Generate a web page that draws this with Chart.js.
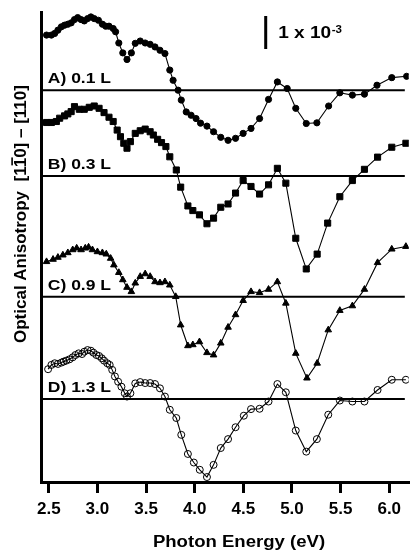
<!DOCTYPE html>
<html><head><meta charset="utf-8">
<script src="https://cdn.jsdelivr.net/npm/chart.js@4.4.1/dist/chart.umd.min.js"></script>
<style>html,body{margin:0;padding:0;background:#fff}canvas{display:block}</style>
</head><body>
<canvas id="c" width="414" height="550"></canvas>
<script>
// ---- Data (anisotropy in units of 1e-3, relative to each curve's baseline) ----
const seriesLabels = ['A) 0.1 L', 'B) 0.3 L', 'C) 0.9 L', 'D) 1.3 L'];
const offsets = [9.36, 6.76, 3.10, 0];
const xTicks = [2.5, 3.0, 3.5, 4.0, 4.5, 5.0, 5.5, 6.0];

const energyA = [2.477,2.527,2.561,2.594,2.629,2.662,2.696,2.730,2.764,2.797,2.832,2.865,2.899,2.933,2.967,3.010,3.051,3.085,3.119,3.162,3.187,3.220,3.261,3.304,3.349,3.389,3.440,3.491,3.542,3.592,3.643,3.694,3.744,3.778,3.829,3.862,3.913,3.963,4.014,4.060,4.126,4.194,4.268,4.343,4.420,4.498,4.579,4.667,4.759,4.850,4.951,5.039,5.147,5.256,5.377,5.492,5.621,5.745,5.874,6.026,6.179];
const valuesA = [1.67,1.67,1.72,1.82,1.92,1.97,2.00,2.04,2.14,2.20,2.14,2.10,2.17,2.22,2.17,2.12,2.00,1.94,1.94,1.87,1.77,1.43,1.13,0.93,1.13,1.42,1.49,1.43,1.39,1.31,1.21,1.11,0.61,0.30,0.00,-0.30,-0.66,-0.76,-0.86,-1.00,-1.09,-1.26,-1.43,-1.52,-1.46,-1.31,-1.16,-0.86,-0.28,0.25,0.05,-0.55,-1.01,-0.99,-0.48,-0.08,-0.15,-0.12,0.15,0.38,0.42];

const energyB = [2.477,2.527,2.578,2.612,2.662,2.696,2.730,2.764,2.814,2.865,2.916,2.967,3.017,3.068,3.119,3.162,3.203,3.237,3.271,3.304,3.339,3.389,3.440,3.491,3.542,3.575,3.619,3.659,3.704,3.744,3.811,3.856,3.930,3.981,4.049,4.126,4.194,4.268,4.343,4.420,4.498,4.579,4.667,4.759,4.850,4.937,5.039,5.147,5.259,5.367,5.492,5.621,5.745,5.880,6.026,6.171];
const valuesB = [1.62,1.62,1.65,1.75,1.82,1.88,1.95,2.10,2.02,2.02,2.08,2.12,2.05,1.92,1.78,1.65,1.39,1.19,0.99,0.84,1.04,1.29,1.37,1.42,1.34,1.24,1.11,1.01,0.89,0.58,0.18,-0.34,-0.91,-1.05,-1.18,-1.45,-1.28,-0.95,-0.85,-0.52,-0.14,-0.32,-0.55,-0.27,0.23,-0.22,-1.89,-2.82,-2.37,-1.43,-0.63,-0.14,0.20,0.57,0.87,0.99];

const energyC = [2.477,2.544,2.594,2.645,2.696,2.746,2.787,2.832,2.875,2.909,2.949,3.000,3.051,3.091,3.136,3.169,3.220,3.261,3.304,3.349,3.389,3.440,3.491,3.542,3.592,3.643,3.694,3.744,3.805,3.856,3.930,3.981,4.049,4.126,4.194,4.268,4.343,4.420,4.498,4.579,4.667,4.759,4.850,4.937,5.039,5.154,5.259,5.373,5.492,5.621,5.745,5.880,6.026,6.171];
const valuesC = [1.06,1.13,1.19,1.26,1.33,1.42,1.47,1.42,1.47,1.50,1.42,1.36,1.33,1.29,1.16,0.96,0.73,0.51,0.28,0.15,0.41,0.61,0.69,0.61,0.45,0.42,0.45,0.35,0.00,-0.86,-1.49,-1.46,-1.37,-1.70,-1.77,-1.41,-0.93,-0.55,-0.12,0.15,0.12,0.22,0.45,-0.20,-1.72,-2.47,-2.02,-1.01,-0.42,-0.28,0.22,1.03,1.44,1.52];

const energyD = [2.493,2.527,2.561,2.594,2.629,2.652,2.680,2.713,2.746,2.774,2.807,2.842,2.865,2.899,2.933,2.959,2.990,3.017,3.045,3.068,3.101,3.126,3.152,3.180,3.213,3.247,3.281,3.304,3.339,3.389,3.440,3.491,3.542,3.592,3.643,3.694,3.744,3.811,3.862,3.930,3.991,4.052,4.126,4.194,4.268,4.343,4.420,4.505,4.579,4.667,4.759,4.850,4.937,5.039,5.147,5.256,5.373,5.492,5.621,5.745,5.880,6.026,6.171];
const valuesD = [0.90,1.03,1.08,1.06,1.10,1.13,1.16,1.20,1.26,1.33,1.38,1.36,1.43,1.48,1.46,1.40,1.33,1.30,1.23,1.16,1.08,1.03,0.88,0.68,0.52,0.37,0.17,0.07,0.17,0.47,0.51,0.48,0.48,0.45,0.32,0.07,-0.33,-0.58,-1.09,-1.67,-1.93,-2.15,-2.37,-2.00,-1.49,-1.22,-0.86,-0.51,-0.31,-0.30,-0.08,0.45,0.20,-0.96,-1.60,-1.22,-0.48,-0.05,-0.08,-0.08,0.27,0.58,0.58];

const scaleBarEnergy = 4.73;
const scaleBarBottom = 10.61;
const scaleBarLength = 1; // 1 x 10^-3

// ---- Build chart ----
const energies = [energyA, energyB, energyC, energyD];
const values = [valuesA, valuesB, valuesC, valuesD];
const styles = [
  {pointStyle: 'circle', radius: 3.1, fill: '#000'},
  {pointStyle: 'rect', radius: 4.3, fill: '#000'},
  {pointStyle: 'triangle', radius: 3.8, fill: '#000'},
  {pointStyle: 'circle', radius: 3.5, fill: 'rgba(0,0,0,0)'}
];
const X_MIN = 2.42, X_MAX = 6.2, BASE_END = 6.16;

const datasets = [];
offsets.forEach((off, i) => {
  datasets.push({
    label: seriesLabels[i] + ' baseline',
    data: [{x: X_MIN, y: off}, {x: BASE_END, y: off}],
    borderColor: '#000', borderWidth: 2, pointRadius: 0, showLine: true
  });
});
energies.forEach((en, i) => {
  const st = styles[i];
  datasets.push({
    label: seriesLabels[i],
    data: en.map((e, k) => ({x: e, y: values[i][k] + offsets[i]})),
    borderColor: '#000', borderWidth: 1.1,
    pointStyle: st.pointStyle, pointRadius: st.radius,
    pointBackgroundColor: st.fill, pointBorderColor: '#000', pointBorderWidth: 1,
    showLine: true, tension: 0
  });
});
datasets.push({
  label: 'scale bar',
  data: [{x: scaleBarEnergy, y: scaleBarBottom}, {x: scaleBarEnergy, y: scaleBarBottom + scaleBarLength}],
  borderColor: '#000', borderWidth: 3, pointRadius: 0, showLine: true
});

function drawText(ctx, text, x, y, font, sx, align) {
  ctx.save();
  ctx.font = font;
  ctx.translate(x, y);
  ctx.scale(sx, 1);
  ctx.textAlign = align || 'left';
  ctx.textBaseline = 'alphabetic';
  ctx.fillText(text, 0, 0);
  ctx.restore();
}

const textPlugin = {
  id: 'texts',
  afterDraw(chart) {
    const {ctx, scales: {x, y}} = chart;
    ctx.save();
    ctx.fillStyle = '#000';
    const F = '"Liberation Sans", Arial, sans-serif';
    // curve labels
    offsets.forEach((off, i) => {
      drawText(ctx, seriesLabels[i], x.getPixelForValue(2.49), y.getPixelForValue(off) - 7, 'bold 14px ' + F, 1.25);
    });
    // scale bar label
    const bx = x.getPixelForValue(scaleBarEnergy) + 12.5;
    const by = y.getPixelForValue(scaleBarBottom) - 11;
    ctx.font = 'bold 16px ' + F;
    const w = ctx.measureText('1 x 10').width * 1.19;
    drawText(ctx, '1 x 10', bx, by, 'bold 16px ' + F, 1.19);
    drawText(ctx, '-3', bx + w + 0.5, by - 5, 'bold 10px ' + F, 1.15);
    // x title
    drawText(ctx, 'Photon Energy (eV)', 239, 547, 'bold 16px ' + F, 1.16, 'center');
    // y title (rotated) with overline on second "1"
    ctx.save();
    ctx.translate(25.5, 343);
    ctx.rotate(-Math.PI / 2);
    ctx.font = 'bold 17px ' + F;
    ctx.textAlign = 'left';
    ctx.textBaseline = 'alphabetic';
    const pre = 'Optical Anisotropy  [1';
    const full = 'Optical Anisotropy  [110] \u2013 [110]';
    ctx.fillText(full, 0, 0);
    const p = ctx.measureText(pre).width;
    const one = ctx.measureText('1').width;
    ctx.fillRect(p + 1, -14.2, one - 1.5, 1.6);
    ctx.restore();
    ctx.restore();
  }
};

new Chart(document.getElementById('c'), {
  type: 'scatter',
  data: {datasets},
  options: {
    responsive: false,
    animation: false,
    events: [],
    layout: {padding: {left: 41, top: 12, right: 0, bottom: 0}},
    plugins: {legend: {display: false}, tooltip: {enabled: false}},
    scales: {
      x: {
        type: 'linear', min: X_MIN, max: X_MAX,
        afterBuildTicks: (s) => { s.ticks = xTicks.map(v => ({value: v})); },
        afterFit: (s) => { s.height = 68; },
        ticks: {
          color: '#000', padding: 6,
          font: {family: '"Liberation Sans", Arial, sans-serif', size: 17, weight: 'bold'},
          callback: (v) => Number(v).toFixed(1),
          maxRotation: 0
        },
        grid: {display: true, drawOnChartArea: false, drawTicks: true, tickLength: 11, lineWidth: 3, color: '#000'},
        border: {display: true, width: 3, color: '#000'},
        title: {display: false}
      },
      y: {
        type: 'linear', min: -2.52, max: 11.73,
        afterFit: (s) => { s.width = 0; },
        ticks: {display: false},
        grid: {display: false},
        border: {display: true, width: 3, color: '#000'},
        title: {display: false}
      }
    }
  },
  plugins: [textPlugin]
});
</script>
</body></html>
